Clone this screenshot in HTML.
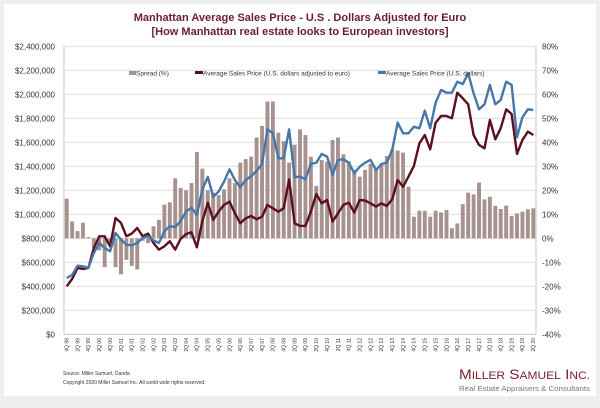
<!DOCTYPE html>
<html><head><meta charset="utf-8"><style>
html,body{margin:0;padding:0;background:#eeeeee;}
#wrap{position:relative;width:600px;height:408px;overflow:hidden;background:#eeeeee;}
svg{position:absolute;left:0;top:0;}
text{font-family:"Liberation Sans",Arial,sans-serif;}
</style></head><body>
<div id="wrap">
<svg id="chart" width="600" height="408" viewBox="0 0 600 408">
  <rect x="4" y="4" width="592" height="392" fill="#ffffff"/>
  <text x="300" y="21" text-anchor="middle" font-size="11" font-weight="bold" fill="#6a1d2c">Manhattan Average Sales Price - U.S . Dollars Adjusted for Euro</text>
  <text x="300" y="35" text-anchor="middle" font-size="11" font-weight="bold" fill="#6a1d2c">[How Manhattan real estate looks to European investors]</text>
  <g id="grid"></g><g id="bars"></g><g id="lines"></g><g id="axes"></g>
  <g>
    <g><rect x="129" y="71" width="7" height="4" fill="#a89290"/><text x="136" y="75.5" font-size="6.5" fill="#333">Spread (%)</text></g>
    <g><rect x="195" y="71" width="8" height="3" fill="#5c0f1e"/><text x="203" y="75.5" font-size="6.5" fill="#333">Average Sales Price (U.S. dollars adjusted to euro)</text></g>
    <g><rect x="378" y="71" width="8" height="3" fill="#4677a8"/><text x="386" y="75.5" font-size="6.5" fill="#333">Average Sales Price (U.S. dollars)</text></g>
  </g>
  <text x="63" y="375" font-size="5" fill="#333">Source: Miller Samuel, Oanda</text>
  <text x="63" y="384" font-size="5" fill="#333">Copyright 2020 Miller Samuel Inc.  All world wide rights reserved.</text>
  <text x="459" y="379" font-family="Liberation Serif,serif" font-size="14" fill="#7a1e2a" textLength="131" lengthAdjust="spacingAndGlyphs">M<tspan font-size="11">ILLER</tspan> S<tspan font-size="11">AMUEL</tspan> I<tspan font-size="11">NC.</tspan></text>
  <text x="459" y="391" font-family="Liberation Serif,serif" font-size="7.5" fill="#777" textLength="131" lengthAdjust="spacingAndGlyphs">Real Estate Appraisers &amp; Consultants</text>
</svg>
</div>
<script>
const quarters = [];
(function(){let q=4,y=98;for(let i=0;i<87;i++){quarters.push(q+"Q "+String(y).padStart(2,"0"));q++;if(q>4){q=1;y=(y+1)%100;}}})();
const spread = [16.5,7,3,6.5,0.5,-4,-5,-12,-2,-12,-15,-9,-11.5,-13,-1,-2,5,7.7,14,15,25,21,20,23,36,29,20,
19,18,20.4,25,23,31.5,33,34,42,46.8,57,57,44,40.5,31.5,39,45.4,43,34,21.8,32.6,31.9,41,42,35,32,28.5,25.7,28.5,31,
28.5,31,34.3,37,36.5,35.7,21.5,9,11.5,11.5,9,11.5,10.8,11.8,4.2,6.2,14.2,19,18.3,23.2,16.2,17.3,13.5,12.2,13.6,9.3,10.4,11.1,12.1,12.5];
const usdPrice = [469,494,572,567,553,678,761,719,692,844,789,747,742,761,803,817,783,761,858,900,894,942,1025,1053,997,1206,1311,
1147,1189,1272,1375,1286,1225,1286,1319,1361,1419,1708,1675,1467,1467,1708,1308,1314,1292,1419,1430,1503,1480,1328,1453,1458,1430,1342,1397,1430,1453,
1369,1419,1430,1536,1763,1675,1675,1730,1717,1863,1717,1930,2036,2013,2013,2105,2086,2175,2008,1875,1917,2078,1917,1953,2105,2078,1642,1808,1875,1869];
const euroPrice = [400,461,553,544,553,719,817,817,733,969,928,817,839,886,817,839,761,706,733,775,706,794,836,850,725,942,1095,
953,1022,1078,1106,1008,925,967,986,958,980,1078,1050,1022,1050,1292,925,903,903,1022,1169,1092,1119,939,1008,1078,1097,1014,1119,1114,1092,
1064,1092,1069,1125,1286,1230,1314,1403,1592,1661,1542,1763,1819,1819,1800,2013,1967,1917,1661,1578,1550,1786,1625,1717,1875,1836,1503,1619,1689,1661];
const leftTicks = ["$0","$200,000","$400,000","$600,000","$800,000","$1,000,000","$1,200,000","$1,400,000","$1,600,000","$1,800,000","$2,000,000","$2,200,000","$2,400,000"];
const rightTicks = ["-40%","-30%","-20%","-10%","0%","10%","20%","30%","40%","50%","60%","70%","80%"];

const NS="http://www.w3.org/2000/svg";
const X0=64,X1=536,TOP=46.3,BOT=334.3;
const slot=(X1-X0)/quarters.length;
function xPos(i){return X0+slot*(i+0.5);}
function yPrice(v){return BOT-(v/2400)*(BOT-TOP);}
function yPct(p){return BOT-((p+40)/120)*(BOT-TOP);}
function mk(tag,attrs,parent){const e=document.createElementNS(NS,tag);for(const k in attrs)e.setAttribute(k,attrs[k]);parent.appendChild(e);return e;}
const grid=document.getElementById("grid"),bars=document.getElementById("bars"),lines=document.getElementById("lines"),axes=document.getElementById("axes");
leftTicks.forEach((t,k)=>{
  const y=BOT-k*(BOT-TOP)/12;
  if(k>0){const g=mk("line",{x1:X0,x2:X1,y1:y,y2:y,stroke:"#d9d9d9","stroke-width":0.8},grid);
    
    }
  const l=mk("text",{x:55,y:y+3,"text-anchor":"end","font-size":"8",fill:"#333"},axes);l.textContent=t;
  
  
  const r=mk("text",{x:542,y:y+3,"font-size":"8",fill:"#333"},axes);r.textContent=rightTicks[k];
  
  
});
const al=mk("line",{x1:X0,x2:X0,y1:TOP,y2:BOT,stroke:"#bbb","stroke-width":0.8},axes);


const ar=mk("line",{x1:X1,x2:X1,y1:TOP,y2:BOT,stroke:"#bbb","stroke-width":0.8},axes);


const ab=mk("line",{x1:X0,x2:X1,y1:BOT,y2:BOT,stroke:"#bbb","stroke-width":0.8},axes);


const y0=yPct(0);
spread.forEach((v,i)=>{
  const y=yPct(v);
  const b=mk("rect",{x:xPos(i)-slot*0.36,width:slot*0.72,y:Math.min(y,y0),height:Math.abs(y-y0),fill:"#a89290"},bars);
  
  
});
function drawLine(arr,color,name){
  const p=mk("polyline",{points:arr.map((v,i)=>xPos(i).toFixed(1)+","+yPrice(v).toFixed(1)).join(" "),fill:"none",stroke:color,"stroke-width":2.4,"stroke-linejoin":"round"},lines);
  
  
}
drawLine(euroPrice,"#5c0f1e","euro-adjusted-price-line");
drawLine(usdPrice,"#4677a8","usd-price-line");
quarters.forEach((q,i)=>{
  if(i%2) return;
  const x=xPos(i)+1.8,y=338;
  const t=mk("text",{x:x,y:y,"font-size":"5","text-anchor":"end",fill:"#333",transform:"rotate(-90 "+x+" "+y+")"},axes);
  t.textContent=q;
  
  
});
</script>
</body></html>
